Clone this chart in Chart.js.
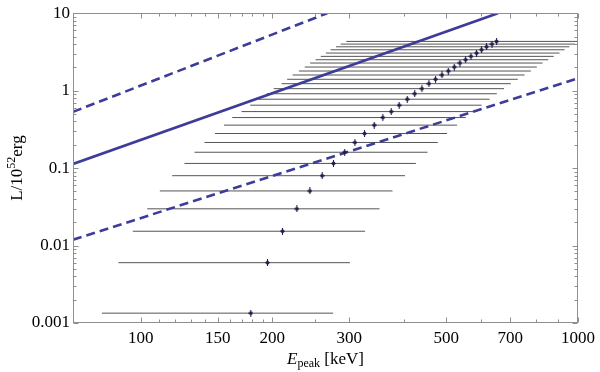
<!DOCTYPE html>
<html>
<head>
<meta charset="utf-8">
<script src="https://cdn.jsdelivr.net/npm/chart.js@4/dist/chart.umd.min.js"></script>
<style>
  html, body { margin: 0; padding: 0; background: #fff; }
  #wrap { width: 600px; height: 372px; }
</style>
</head>
<body>
<div id="wrap"><canvas id="chart" width="600" height="372"></canvas></div>
<script>
// peak energies (keV), symmetric errors (keV) and luminosities (10^52 erg)
const ePeak = [178.5, 194.9, 210.9, 227.5, 243.6, 260.0, 275.9, 292.7, 308.9, 324.9,
  342.0, 357.9, 374.0, 390.0, 406.8, 423.2, 439.5, 456.0, 472.2, 488.5,
  505.0, 521.2, 537.0, 553.2, 569.1, 586.1, 601.7, 617.7, 635.6, 651.2];
const eErr = [97, 106, 115, 124, 133, 142, 150, 160, 169, 177,
  187, 196, 204, 212, 221, 229, 238, 246, 256, 266,
  275, 284, 293, 302, 311, 321, 330, 338, 349, 356];
const lum = [0.00134, 0.00601, 0.0153, 0.0298, 0.0507, 0.0798, 0.1149, 0.1602, 0.2142, 0.2797,
  0.3587, 0.4494, 0.5367, 0.6488, 0.7749, 0.912, 1.061, 1.230, 1.402, 1.593,
  1.792, 2.018, 2.273, 2.506, 2.771, 3.056, 3.371, 3.684, 3.990, 4.323];

// model lines (end points)
const solidE = [70, 656];
const solidL = [0.113, 10];
const upperE = [70, 267];
const upperL = [0.532, 10];
const lowerE = [70, 1000];
const lowerL = [0.0119, 1.444];

// ticks
const xMajorTicks = [100, 150, 200, 300, 500, 700, 1000];
const xMinorTicks = [110, 120, 130, 140, 160, 170, 180, 190, 250, 400, 600, 800, 900];
const yMajorTicks = [0.001, 0.01, 0.1, 1, 10];
const yTickLabels = ['0.001', '0.01', '0.1', '1', '10'];
const yMinorTicks = [0.002, 0.003, 0.004, 0.005, 0.006, 0.007, 0.008, 0.009,
  0.02, 0.03, 0.04, 0.05, 0.06, 0.07, 0.08, 0.09,
  0.2, 0.3, 0.4, 0.5, 0.6, 0.7, 0.8, 0.9,
  2, 3, 4, 5, 6, 7, 8, 9];

const lineBlue = '#3d3d99';
const frameColor = '#8f8f8f';
const serif = "'Liberation Serif', 'DejaVu Serif', serif";

const toPoints = (xs, ys) => xs.map((v, i) => ({ x: v, y: ys[i] }));

// small diamond marker with a short vertical bar
function makeMarker() {
  const c = document.createElement('canvas');
  c.width = 5; c.height = 7;
  const g = c.getContext('2d');
  g.fillStyle = '#1e1e48';
  g.beginPath();
  g.moveTo(2.5, 1); g.lineTo(5, 3.5); g.lineTo(2.5, 6); g.lineTo(0, 3.5);
  g.closePath(); g.fill();
  g.fillRect(2, 0, 1, 7);
  return c;
}

const errorBars = {
  id: 'errorBars',
  beforeDatasetsDraw(chart) {
    const { ctx, chartArea: a, scales: { x, y } } = chart;
    ctx.save();
    ctx.beginPath();
    ctx.rect(a.left, a.top, a.right - a.left, a.bottom - a.top);
    ctx.clip();
    ctx.strokeStyle = '#555';
    ctx.lineWidth = 1;
    ePeak.forEach((e, i) => {
      const yy = y.getPixelForValue(lum[i]);
      ctx.beginPath();
      ctx.moveTo(x.getPixelForValue(e - eErr[i]), yy);
      ctx.lineTo(x.getPixelForValue(e + eErr[i]), yy);
      ctx.stroke();
    });
    ctx.restore();
  }
};

const frameTicks = {
  id: 'frameTicks',
  afterDraw(chart) {
    const { ctx, chartArea: a, scales: { x, y } } = chart;
    ctx.save();
    ctx.strokeStyle = frameColor;
    ctx.lineWidth = 1;
    const L = Math.round(a.left) + 0.5, R = Math.round(a.right) - 0.5;
    const T = Math.round(a.top) + 0.5, B = Math.round(a.bottom) - 0.5;
    ctx.strokeRect(L, T, R - L, B - T);
    ctx.beginPath();
    const xt = (v, len) => {
      const p = Math.round(x.getPixelForValue(v)) + 0.5;
      ctx.moveTo(p, B); ctx.lineTo(p, B - len);
      ctx.moveTo(p, T); ctx.lineTo(p, T + len);
    };
    const yt = (v, len) => {
      const p = Math.round(y.getPixelForValue(v)) + 0.5;
      ctx.moveTo(L, p); ctx.lineTo(L + len, p);
      ctx.moveTo(R, p); ctx.lineTo(R - len, p);
    };
    xMajorTicks.forEach(v => xt(v, 5));
    xMinorTicks.forEach(v => xt(v, 3));
    yMajorTicks.forEach(v => yt(v, 5));
    yMinorTicks.forEach(v => yt(v, 3));
    ctx.stroke();

    // axis titles
    ctx.fillStyle = '#000';
    ctx.textBaseline = 'alphabetic';
    const cx = (a.left + a.right) / 2;
    const parts = [
      { t: 'E', f: 'italic 17px ' + serif, dy: 0 },
      { t: 'peak', f: '12px ' + serif, dy: 3 },
      { t: ' [keV]', f: '17px ' + serif, dy: 0 }
    ];
    let w = 0;
    parts.forEach(p => { ctx.font = p.f; p.w = ctx.measureText(p.t).width; w += p.w; });
    let px = cx - w / 2;
    parts.forEach(p => { ctx.font = p.f; ctx.fillText(p.t, px, 364 + p.dy); px += p.w; });

    ctx.translate(22, (a.top + a.bottom) / 2);
    ctx.rotate(-Math.PI / 2);
    const yparts = [
      { t: 'L/10', f: '17px ' + serif, dy: 0 },
      { t: '52', f: '12px ' + serif, dy: -7 },
      { t: 'erg', f: '17px ' + serif, dy: 0 }
    ];
    w = 0;
    yparts.forEach(p => { ctx.font = p.f; p.w = ctx.measureText(p.t).width; w += p.w; });
    px = -w / 2;
    yparts.forEach(p => { ctx.font = p.f; ctx.fillText(p.t, px, p.dy); px += p.w; });
    ctx.restore();
  }
};

const ctx = document.getElementById('chart').getContext('2d');
new Chart(ctx, {
  type: 'scatter',
  data: {
    datasets: [
      {
        data: toPoints(ePeak, lum),
        pointStyle: makeMarker(),
        pointRadius: 3,
        showLine: false
      },
      {
        data: toPoints(solidE, solidL),
        showLine: true,
        borderColor: lineBlue,
        borderWidth: 2.6,
        pointRadius: 0
      },
      {
        data: toPoints(upperE, upperL),
        showLine: true,
        borderColor: lineBlue,
        borderWidth: 2.6,
        borderDash: [9, 5],
        pointRadius: 0
      },
      {
        data: toPoints(lowerE, lowerL),
        showLine: true,
        borderColor: lineBlue,
        borderWidth: 2.6,
        borderDash: [9, 5],
        pointRadius: 0
      }
    ]
  },
  options: {
    responsive: false,
    animation: false,
    layout: { padding: { top: 12, right: 21, left: 0, bottom: 0 } },
    plugins: { legend: { display: false }, tooltip: { enabled: false } },
    scales: {
      x: {
        type: 'logarithmic',
        min: 70,
        max: 1000,
        afterBuildTicks: s => { s.ticks = xMajorTicks.map(v => ({ value: v })); },
        afterFit: s => { s.height = 49; },
        ticks: {
          callback: v => String(v),
          autoSkip: false,
          maxRotation: 0,
          padding: 5,
          color: '#000',
          font: { family: serif, size: 17 }
        },
        grid: { display: false, drawTicks: false },
        border: { display: false }
      },
      y: {
        type: 'logarithmic',
        min: 0.001,
        max: 10,
        afterBuildTicks: s => { s.ticks = yMajorTicks.map(v => ({ value: v })); },
        afterFit: s => { s.width = 73; },
        ticks: {
          callback: (v) => yTickLabels[yMajorTicks.indexOf(v)],
          autoSkip: false,
          padding: 3,
          color: '#000',
          font: { family: serif, size: 17 }
        },
        grid: { display: false, drawTicks: false },
        border: { display: false }
      }
    }
  },
  plugins: [errorBars, frameTicks]
});
</script>
</body>
</html>
